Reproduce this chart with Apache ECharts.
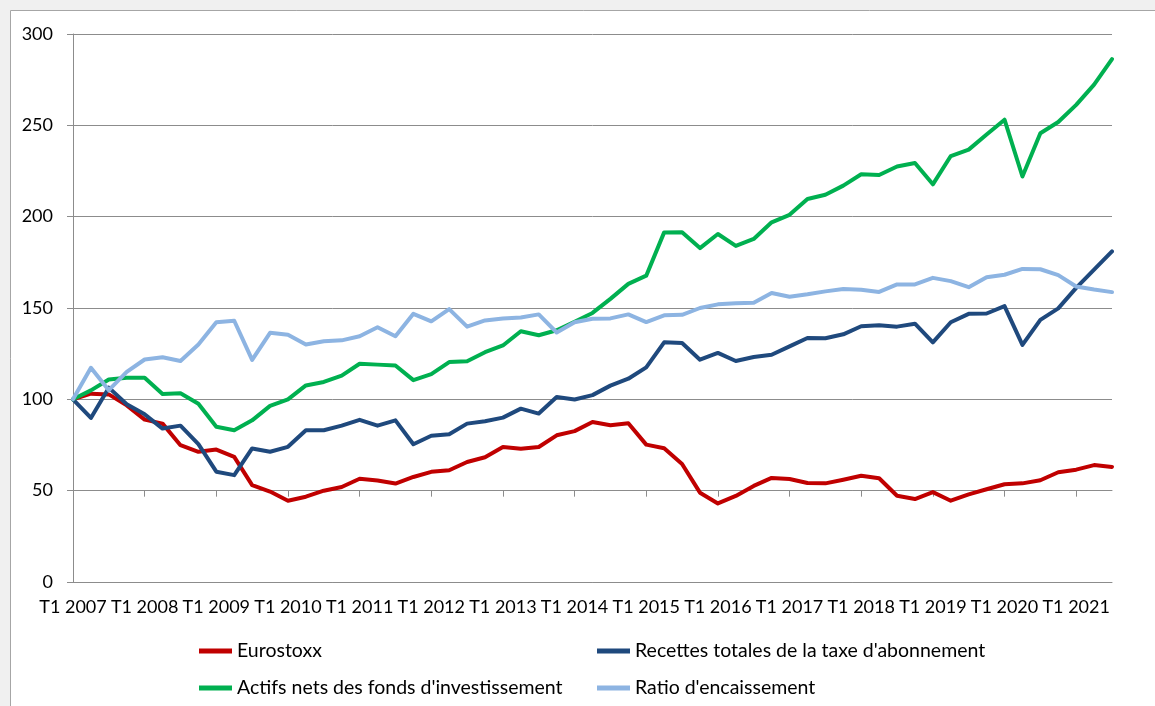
<!DOCTYPE html>
<html>
<head>
<meta charset="utf-8">
<script src="https://cdn.jsdelivr.net/npm/echarts@6/dist/echarts.min.js"></script>
<style>
  html, body { margin: 0; padding: 0; background: #f0f0f0; }
  #chart { width: 1155px; height: 706px; }
</style>
</head>
<body>
<div id="chart"></div>
<script>
// Quarterly index series, base 100 = T1 2007
const years = [2007, 2008, 2009, 2010, 2011, 2012, 2013, 2014, 2015, 2016, 2017, 2018, 2019, 2020, 2021];
const quarters = ['T1', 'T2', 'T3', 'T4'];
const lastQuarterCount = 3; // 2021 runs up to T3

const seriesNames = [
  'Eurostoxx',
  "Recettes totales de la taxe d'abonnement",
  "Actifs nets des fonds d'investissement",
  "Ratio d'encaissement"
];

const eurostoxx = [
  100, 103.1, 102.7, 96.7, 88.9, 86.7, 74.9, 71.3, 72.5, 68.5,
  53, 49.5, 44.5, 46.7, 50, 52, 56.5, 55.6, 53.9, 57.5,
  60.3, 61.2, 65.7, 68.3, 73.9, 73, 73.9, 80.3, 82.6, 87.6,
  85.8, 86.9, 75.2, 73.2, 64.6, 48.9, 43, 47.1, 52.6, 57,
  56.4, 54.2, 54, 56, 58.2, 56.8, 47.2, 45.4, 49.2, 44.5,
  48, 50.8, 53.5, 54, 55.7, 60.1, 61.5, 64, 63
];

const recettesTaxe = [
  100, 89.8, 106.4, 97.3, 91.8, 84, 85.6, 75.5, 60.4, 58.5,
  73.1, 71.3, 74, 83.1, 83.1, 85.6, 88.8, 85.6, 88.5, 75.4,
  80.1, 80.9, 86.7, 88, 90, 94.9, 92.2, 101.3, 99.9, 102.3,
  107.5, 111.3, 117.5, 131.2, 130.8, 121.7, 125.4, 121, 123.2, 124.4,
  129, 133.6, 133.4, 135.6, 140, 140.5, 139.8, 141.4, 131.2, 142.2,
  146.8, 147, 151, 129.8, 143.5, 149.8, 161, 171, 181
];

const actifsNets = [
  100, 104.9, 110.9, 111.8, 111.8, 102.9, 103.3, 97.6, 85, 83.1,
  88.5, 96.4, 100, 107.6, 109.5, 113, 119.5, 119, 118.5, 110.5,
  113.8, 120.4, 120.8, 125.8, 129.5, 137.3, 135.1, 137.8, 142.5, 147.3,
  155, 163.2, 167.7, 191.4, 191.5, 182.8, 190.5, 184, 187.8, 196.9,
  201, 209.7, 212, 217, 223.2, 222.8, 227.5, 229.4, 217.7, 233.2,
  236.7, 245, 253.1, 222, 245.7, 251.8, 261.2, 272.3, 286.3
];

const ratioEncaissement = [
  100, 117.3, 105, 115, 121.8, 123, 121, 130, 142.2, 143,
  121.6, 136.4, 135.3, 130, 131.8, 132.3, 134.5, 139.5, 134.5, 146.8,
  142.7, 149.4, 139.8, 143.2, 144.3, 144.8, 146.5, 136.6, 142.2, 144.1,
  144.3, 146.5, 142.3, 146, 146.3, 150, 152, 152.6, 152.9, 158.2,
  156.2, 157.5, 159.1, 160.4, 160, 158.8, 162.9, 162.9, 166.5, 164.7,
  161.4, 166.8, 168.2, 171.4, 171.2, 168, 161.8, 160.1, 158.7
];

const seriesColors = ['#c00000', '#1f497d', '#00b050', '#8db4e2'];

// Category labels "T1 2007" ... "T3 2021"
const categories = [];
years.forEach(function (y, yi) {
  const n = yi === years.length - 1 ? lastQuarterCount : quarters.length;
  for (let q = 0; q < n; q++) categories.push(quarters[q] + ' ' + y);
});

const FONT = 'Lato, "Open Sans", sans-serif';
const GRID_TOP = 34, GRID_BOTTOM = 124, CHART_H = 706;
const plotHeight = CHART_H - GRID_TOP - GRID_BOTTOM;
const Y_MIN = 0, Y_MAX = 300, Y_STEP = 50;
const crossValue = 50; // horizontal axis crosses the value axis at 50
const axisGray = '#8c8c8c';

const chart = echarts.init(document.getElementById('chart'), null, { renderer: 'canvas' });

const dataSets = [eurostoxx, recettesTaxe, actifsNets, ratioEncaissement];

// One legend column: two entries stacked vertically
function legendColumn(names, left) {
  return {
    data: names,
    orient: 'vertical',
    left: left,
    top: 641,
    padding: 0,
    itemGap: 17,
    itemWidth: 33,
    itemHeight: 5,
    icon: 'rect',
    textStyle: { color: '#000', fontFamily: FONT, fontSize: 19.5, lineHeight: 20 }
  };
}

chart.setOption({
  backgroundColor: '#f0f0f0',
  animation: false,
  graphic: [{
    type: 'rect',
    z: -10,
    shape: { x: 10.5, y: 10.5, width: 1200, height: 800 },
    style: { fill: '#ffffff', stroke: '#a6a6a6', lineWidth: 1 }
  }],
  grid: { left: 73, right: 43, top: GRID_TOP, bottom: GRID_BOTTOM, containLabel: false },
  xAxis: [{
    type: 'category',
    data: categories,
    boundaryGap: false,
    axisLine: { show: true, lineStyle: { color: axisGray, width: 1 } },
    axisTick: { show: false },
    axisLabel: {
      interval: 3,
      margin: 16,
      color: '#000',
      fontFamily: FONT,
      fontSize: 18
    },
    splitLine: { show: false }
  }, {
    type: 'category',
    data: categories,
    boundaryGap: false,
    position: 'bottom',
    offset: -plotHeight * (crossValue - Y_MIN) / (Y_MAX - Y_MIN),
    axisLine: { show: true, lineStyle: { color: axisGray, width: 1 } },
    axisTick: { show: true, interval: 3, length: 6, lineStyle: { color: axisGray } },
    axisLabel: { show: false },
    splitLine: { show: false }
  }],
  yAxis: {
    type: 'value',
    min: Y_MIN,
    max: Y_MAX,
    interval: Y_STEP,
    axisLine: { show: true, lineStyle: { color: axisGray, width: 1 } },
    axisTick: { show: true, length: 6, lineStyle: { color: axisGray } },
    axisLabel: { margin: 20, color: '#000', fontFamily: FONT, fontSize: 18 },
    splitLine: { show: true, lineStyle: { color: axisGray, width: 1 } }
  },
  legend: [
    legendColumn([seriesNames[0], seriesNames[2]], 199),
    legendColumn([seriesNames[1], seriesNames[3]], 597)
  ],
  series: dataSets.map(function (d, i) {
    return {
      name: seriesNames[i],
      type: 'line',
      data: d,
      xAxisIndex: 0,
      symbol: 'none',
      smooth: false,
      color: seriesColors[i],
      itemStyle: { color: seriesColors[i] },
      lineStyle: { color: seriesColors[i], width: 4, join: 'round', cap: 'round' }
    };
  })
});
</script>
</body>
</html>
